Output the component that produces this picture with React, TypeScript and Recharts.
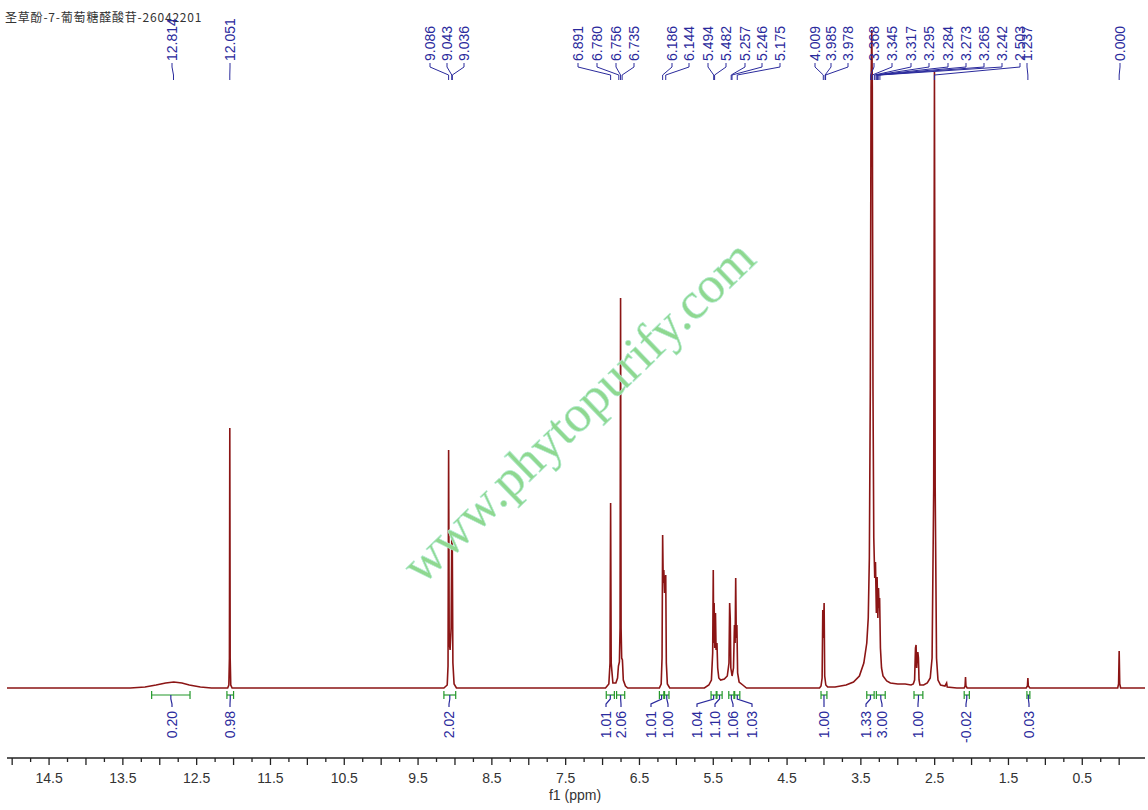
import React from "react";
import { LineChart, Line, XAxis, YAxis } from "recharts";

// spectrum: [ppm, intensity (px above baseline)]
const HUMP_128: [number, number][] = [[15.07,0],[13.4,0],[13.2,1],[13.05,3],[12.92,5],[12.81,6],[12.7,5],[12.6,3],[12.45,1],[12.3,0]];
const PEAK_1205: [number, number][] = [[12.08,0],[12.064,3],[12.056,30],[12.051,260],[12.046,30],[12.038,3],[12.02,0]];
const PEAK_904: [number, number][] = [[9.15,0],[9.105,3],[9.094,22],[9.086,238],[9.078,45],[9.066,38],[9.052,60],[9.043,151],[9.036,140],[9.028,25],[9.012,4],[8.98,0]];
const PEAK_68: [number, number][] = [[6.96,0],[6.915,4],[6.899,25],[6.891,185],[6.883,25],[6.86,5],[6.82,5],[6.797,10],[6.785,22],[6.772,26],[6.763,60],[6.756,390],[6.749,60],[6.741,30],[6.731,28],[6.719,8],[6.69,2],[6.66,0]];
const PEAK_616: [number, number][] = [[6.23,0],[6.206,4],[6.194,30],[6.186,153],[6.178,105],[6.17,118],[6.16,95],[6.152,108],[6.144,113],[6.136,25],[6.122,4],[6.09,0]];
const PEAK_54: [number, number][] = [[5.62,0],[5.56,3],[5.525,8],[5.508,35],[5.5,118],[5.494,45],[5.488,85],[5.48,40],[5.47,75],[5.462,38],[5.45,45],[5.44,20],[5.425,10],[5.4,8],[5.35,9],[5.31,12],[5.287,25],[5.278,85],[5.27,70],[5.262,20],[5.245,12],[5.226,20],[5.213,63],[5.204,45],[5.196,110],[5.188,50],[5.18,63],[5.17,15],[5.15,6],[5.1,3],[5.05,0]];
const PEAK_40: [number, number][] = [[4.06,0],[4.04,2],[4.025,10],[4.016,78],[4.008,50],[3.998,85],[3.99,12],[3.975,3],[3.95,1],[3.85,1]];
const PEAK_33: [number, number][] = [[3.7,3],[3.6,6],[3.52,12],[3.46,25],[3.42,45],[3.4,70],[3.385,130],[3.372,300],[3.362,600],[3.352,658],[3.345,600],[3.336,300],[3.325,150],[3.312,110],[3.302,126],[3.29,75],[3.28,111],[3.27,70],[3.261,100],[3.253,80],[3.246,90],[3.235,40],[3.22,20],[3.2,12],[3.15,7],[3.1,5],[3.0,4],[2.9,4],[2.82,3]];
const PEAK_27: [number, number][] = [[2.79,4],[2.772,8],[2.76,40],[2.752,43],[2.744,20],[2.736,32],[2.728,36],[2.72,30],[2.712,8],[2.7,3],[2.65,3]];
const PEAK_25: [number, number][] = [[2.6,5],[2.56,10],[2.535,30],[2.513,200],[2.503,616],[2.493,200],[2.475,30],[2.455,8],[2.42,3],[2.36,2],[2.338,5],[2.33,1],[2.2,0]];
const SMALL_PEAKS: [number, number][] = [[2.1,0],[2.088,2],[2.082,11],[2.076,2],[2.06,0],[1.26,0],[1.243,2],[1.237,10],[1.231,2],[1.21,0],[0.02,0],[0.008,4],[0.0,37],[-0.008,4],[-0.02,0],[-0.35,0]];

const SPECTRUM = [...HUMP_128, ...PEAK_1205, ...PEAK_904, ...PEAK_68, ...PEAK_616, ...PEAK_54, ...PEAK_40, ...PEAK_33, ...PEAK_27, ...PEAK_25, ...SMALL_PEAKS];

// peak labels across the top
const PEAK_LABELS = ["12.814","12.051","9.086","9.043","9.036","6.891","6.780","6.756","6.735","6.186","6.144","5.494","5.482","5.257","5.246","5.175","4.009","3.985","3.978","3.368","3.345","3.317","3.295","3.284","3.273","3.265","3.242","2.503","1.237","0.000"];
const PEAK_LABEL_X = [172,230,430,447,464,578,597,616,634,672,689,708,726,745,762,780,815,831,848,874,892,911,929,948,966,984,1002,1020,1027,1120];

// integrals under the baseline
const INT_VALUES = ["0.20","0.98","2.02","1.01","2.06","1.01","1.00","1.04","1.10","1.06","1.03","1.00","1.33","3.00","1.00","-0.02","0.03"];
const INT_FROM = [13.11,12.09,9.15,6.95,6.81,6.23,6.16,5.53,5.45,5.29,5.21,4.04,3.42,3.29,2.78,2.10,1.25];
const INT_TO = [12.59,12.0,8.99,6.84,6.70,6.17,6.10,5.46,5.38,5.22,5.14,3.96,3.32,3.17,2.66,2.03,1.21];
const INT_LABEL_X = [172,230,449,606,621,651,668,697,715,733,752,824,866,882,918,966,1029];

const TICK_LABELS = [14.5,13.5,12.5,11.5,10.5,9.5,8.5,7.5,6.5,5.5,4.5,3.5,2.5,1.5,0.5];
const TICKS = Array.from({ length: 61 }, (_, i) => 15 - i * 0.25);

const X_DOMAIN: [number, number] = [-0.35, 15.07];
const W = 1148, H = 810;
const M = { top: 28, right: 3, bottom: 0, left: 7 };
const AXIS_H = 52;
const ppmToX = (p: number) => M.left + ((X_DOMAIN[1] - p) / (X_DOMAIN[1] - X_DOMAIN[0])) * (W - M.left - M.right);

const BLUE = "#2a2a9c";
const GREEN = "#23982a";
const FONT = "'Liberation Sans', Arial, sans-serif";

function AxisTick(props: any) {
  const { x, y, payload } = props;
  const v = payload.value;
  const major = Math.abs(v * 2 - Math.round(v * 2)) < 1e-6;
  const labelled = TICK_LABELS.some(t => Math.abs(t - v) < 1e-6);
  return (
    <g>
      <line x1={x} x2={x} y1={y} y2={y + (major ? 7 : 4)} stroke="#222" strokeWidth={1.3} />
      {labelled && (
        <text x={x} y={y + 25} textAnchor="middle" fontSize={14} fontFamily={FONT} fill="#333">{v.toFixed(1)}</text>
      )}
    </g>
  );
}

function Overlay() {
  return (
    <svg width={W} height={H} style={{ position: "absolute", left: 0, top: 0, pointerEvents: "none" }}>
      <text x={5} y={22} fontSize={12} letterSpacing={0.8} fontFamily="'Noto Sans CJK SC', sans-serif" fill="#333">圣草酚-7-葡萄糖醛酸苷-26042201</text>
      <text x={578} y={411} transform="rotate(-44 578 411)" textAnchor="middle" dominantBaseline="central"
        fontSize={52} fontFamily="'Liberation Serif', 'Times New Roman', serif" fill="#8fd88f" stroke="#b6ecd8" strokeWidth={0.6}>
        www.phytopurify.com
      </text>
      {PEAK_LABELS.map((l, i) => {
        const lx = PEAK_LABEL_X[i];
        const px = ppmToX(parseFloat(l));
        return (
          <g key={"p" + i}>
            <polyline points={`${lx},63 ${lx},67 ${px},75 ${px},80`} fill="none" stroke={BLUE} strokeWidth={1} />
            <text x={lx} y={61} transform={`rotate(-90 ${lx} 61)`} dy="0.36em" textAnchor="start" fontSize={14} fontFamily={FONT} fill={BLUE}>{l}</text>
          </g>
        );
      })}
      {INT_VALUES.map((v, i) => {
        const x1 = ppmToX(INT_FROM[i]);
        const x2 = ppmToX(INT_TO[i]);
        const cx = (x1 + x2) / 2;
        const lx = INT_LABEL_X[i];
        return (
          <g key={"i" + i}>
            <line x1={x1} x2={x2} y1={695} y2={695} stroke={GREEN} strokeWidth={1.2} />
            <line x1={x1} x2={x1} y1={691} y2={699} stroke={GREEN} strokeWidth={1.2} />
            <line x1={x2} x2={x2} y1={691} y2={699} stroke={GREEN} strokeWidth={1.2} />
            <polyline points={`${cx},695 ${cx},699 ${lx},704 ${lx},707`} fill="none" stroke={BLUE} strokeWidth={1.2} />
            <text x={lx} y={711} transform={`rotate(-90 ${lx} 711)`} dy="0.36em" textAnchor="end" fontSize={14} fontFamily={FONT} fill={BLUE}>{v}</text>
          </g>
        );
      })}
      <text x={575} y={800} textAnchor="middle" fontSize={14} fontFamily={FONT} fill="#333">f1 (ppm)</text>
    </svg>
  );
}

export default function App() {
  const rows = SPECTRUM.map(([ppm, i]) => ({ ppm, i }));
  return (
    <div style={{ position: "fixed", left: 0, top: 0, width: W, height: H, background: "#fff" }}>
      <LineChart width={W} height={H} data={rows} margin={M}>
        <XAxis type="number" dataKey="ppm" domain={X_DOMAIN} reversed allowDataOverflow ticks={TICKS} interval={0}
          height={AXIS_H} tickLine={false} tickSize={0} tickMargin={0} axisLine={{ stroke: "#222", strokeWidth: 1.3 }}
          tick={(p: any) => <AxisTick {...p} />} />
        <YAxis hide type="number" domain={[-70, 660]} allowDataOverflow />
        <Line type="linear" dataKey="i" stroke="#8b1515" strokeWidth={1.6} dot={false} isAnimationActive={false} />
      </LineChart>
      <Overlay />
    </div>
  );
}
